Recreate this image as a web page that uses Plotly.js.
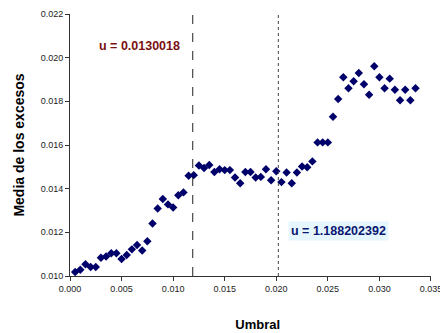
<!DOCTYPE html>
<html>
<head>
<meta charset="utf-8">
<script src="https://cdn.plot.ly/plotly-3.0.1.min.js"></script>
<style>html,body{margin:0;padding:0;background:#fff;}#chart{width:440px;height:333px;}</style>
</head>
<body>
<div id="chart"></div>
<script>
// Umbral (threshold) values
const umbral = [
  0.0005,0.0010,0.0015,0.0020,0.0025,0.0030,0.0035,0.0040,0.0045,0.0050,
  0.0055,0.0060,0.0065,0.0070,0.0075,0.0080,0.0085,0.0090,0.0095,0.0100,
  0.0105,0.0110,0.0115,0.0120,0.0125,0.0130,0.0135,0.0140,0.0145,0.0150,
  0.0155,0.0160,0.0165,0.0170,0.0175,0.0180,0.0185,0.0190,0.0195,0.0200,
  0.0205,0.0210,0.0215,0.0220,0.0225,0.0230,0.0235,0.0240,0.0245,0.0250,
  0.0255,0.0260,0.0265,0.0270,0.0275,0.0280,0.0285,0.0290,0.0295,0.0300,
  0.0305,0.0310,0.0315,0.0320,0.0325,0.0330,0.0335
];
// Media de los excesos (mean excess)
const mediaExcesos = [
  0.01018,0.01029,0.01054,0.01041,0.01041,0.01084,0.01089,0.01104,0.01104,0.01078,
  0.01096,0.01122,0.01142,0.01117,0.01159,0.01240,0.01309,0.01353,0.01328,0.01314,
  0.01370,0.01383,0.01459,0.01462,0.01506,0.01495,0.01508,0.01476,0.01489,0.01485,
  0.01485,0.01451,0.01425,0.01476,0.01476,0.01451,0.01454,0.01489,0.01439,0.01480,
  0.01430,0.01474,0.01425,0.01474,0.01502,0.01498,0.01525,0.01612,0.01612,0.01612,
  0.01729,0.01811,0.01910,0.01860,0.01892,0.01930,0.01878,0.01830,0.01961,0.01910,
  0.01860,0.01904,0.01853,0.01805,0.01853,0.01805,0.01860
];
// Reference threshold lines
const lineaDiscontinua = [0.0119];
const lineaPunteada = [0.0202];
const yRange = [0.010, 0.022];
const xRange = [0.000, 0.035001];
const etiquetas = ["u = 0.0130018", "u = 1.188202392"];
const etiquetaPos = [[0.00669, 0.02055], [0.0260, 0.01205]];

const traces = [
  {
    x: umbral, y: mediaExcesos, type: 'scatter', mode: 'markers',
    marker: {symbol: 'diamond', size: 6.5, color: '#00006b'},
    hoverinfo: 'x+y', showlegend: false
  },
  {
    x: [lineaDiscontinua[0], lineaDiscontinua[0]], y: yRange, type: 'scatter', mode: 'lines',
    line: {color: '#222', width: 1, dash: 'dash'}, showlegend: false, hoverinfo: 'skip'
  },
  {
    x: [lineaPunteada[0], lineaPunteada[0]], y: yRange, type: 'scatter', mode: 'lines',
    line: {color: '#444', width: 1, dash: 'dot'}, showlegend: false, hoverinfo: 'skip'
  }
];

const layout = {
  width: 440, height: 333,
  margin: {l: 70, r: 9, t: 14, b: 57},
  paper_bgcolor: '#fff', plot_bgcolor: '#fff',
  font: {family: 'Liberation Sans, Arial, sans-serif', size: 9, color: '#222'},
  showlegend: false,
  xaxis: {
    range: xRange, dtick: 0.005, tick0: 0, tickformat: '.3f',
    showgrid: false, zeroline: false, showline: true, linecolor: '#333', linewidth: 1,
    ticks: 'outside', ticklen: 4, tickcolor: '#333', ticklabeloverflow: 'allow',
    tickfont: {size: 9, color: '#222'},
    title: {text: '&nbsp;&nbsp;&nbsp;&nbsp;Umbral', font: {size: 13, color: '#000', family: 'Liberation Sans, Arial, sans-serif', weight: 'bold'}, standoff: 27}
  },
  yaxis: {
    range: yRange, dtick: 0.002, tick0: 0.010, tickformat: '.3f',
    showgrid: false, zeroline: false, showline: true, linecolor: '#333', linewidth: 1,
    ticks: 'outside', ticklen: 4, tickcolor: '#333',
    tickfont: {size: 9, color: '#222'},
    title: {text: 'Media de los excesos', font: {size: 14, color: '#000', family: 'Liberation Sans, Arial, sans-serif', weight: 'bold'}, standoff: 12}
  },
  annotations: [
    {
      x: etiquetaPos[0][0], y: etiquetaPos[0][1], xref: 'x', yref: 'y',
      text: '<b>' + etiquetas[0] + '</b>', showarrow: false,
      font: {size: 12.5, color: '#7a1010', family: 'Liberation Sans, Arial, sans-serif'},
      bgcolor: '#ffffff', borderpad: 2
    },
    {
      x: etiquetaPos[1][0], y: etiquetaPos[1][1], xref: 'x', yref: 'y',
      text: '<b>' + etiquetas[1] + '</b>', showarrow: false,
      font: {size: 12.5, color: '#0a1670', family: 'Liberation Sans, Arial, sans-serif'},
      bgcolor: '#e6f6ff', borderpad: 2
    }
  ]
};

Plotly.newPlot('chart', traces, layout, {displayModeBar: false, staticPlot: true});
</script>
</body>
</html>
